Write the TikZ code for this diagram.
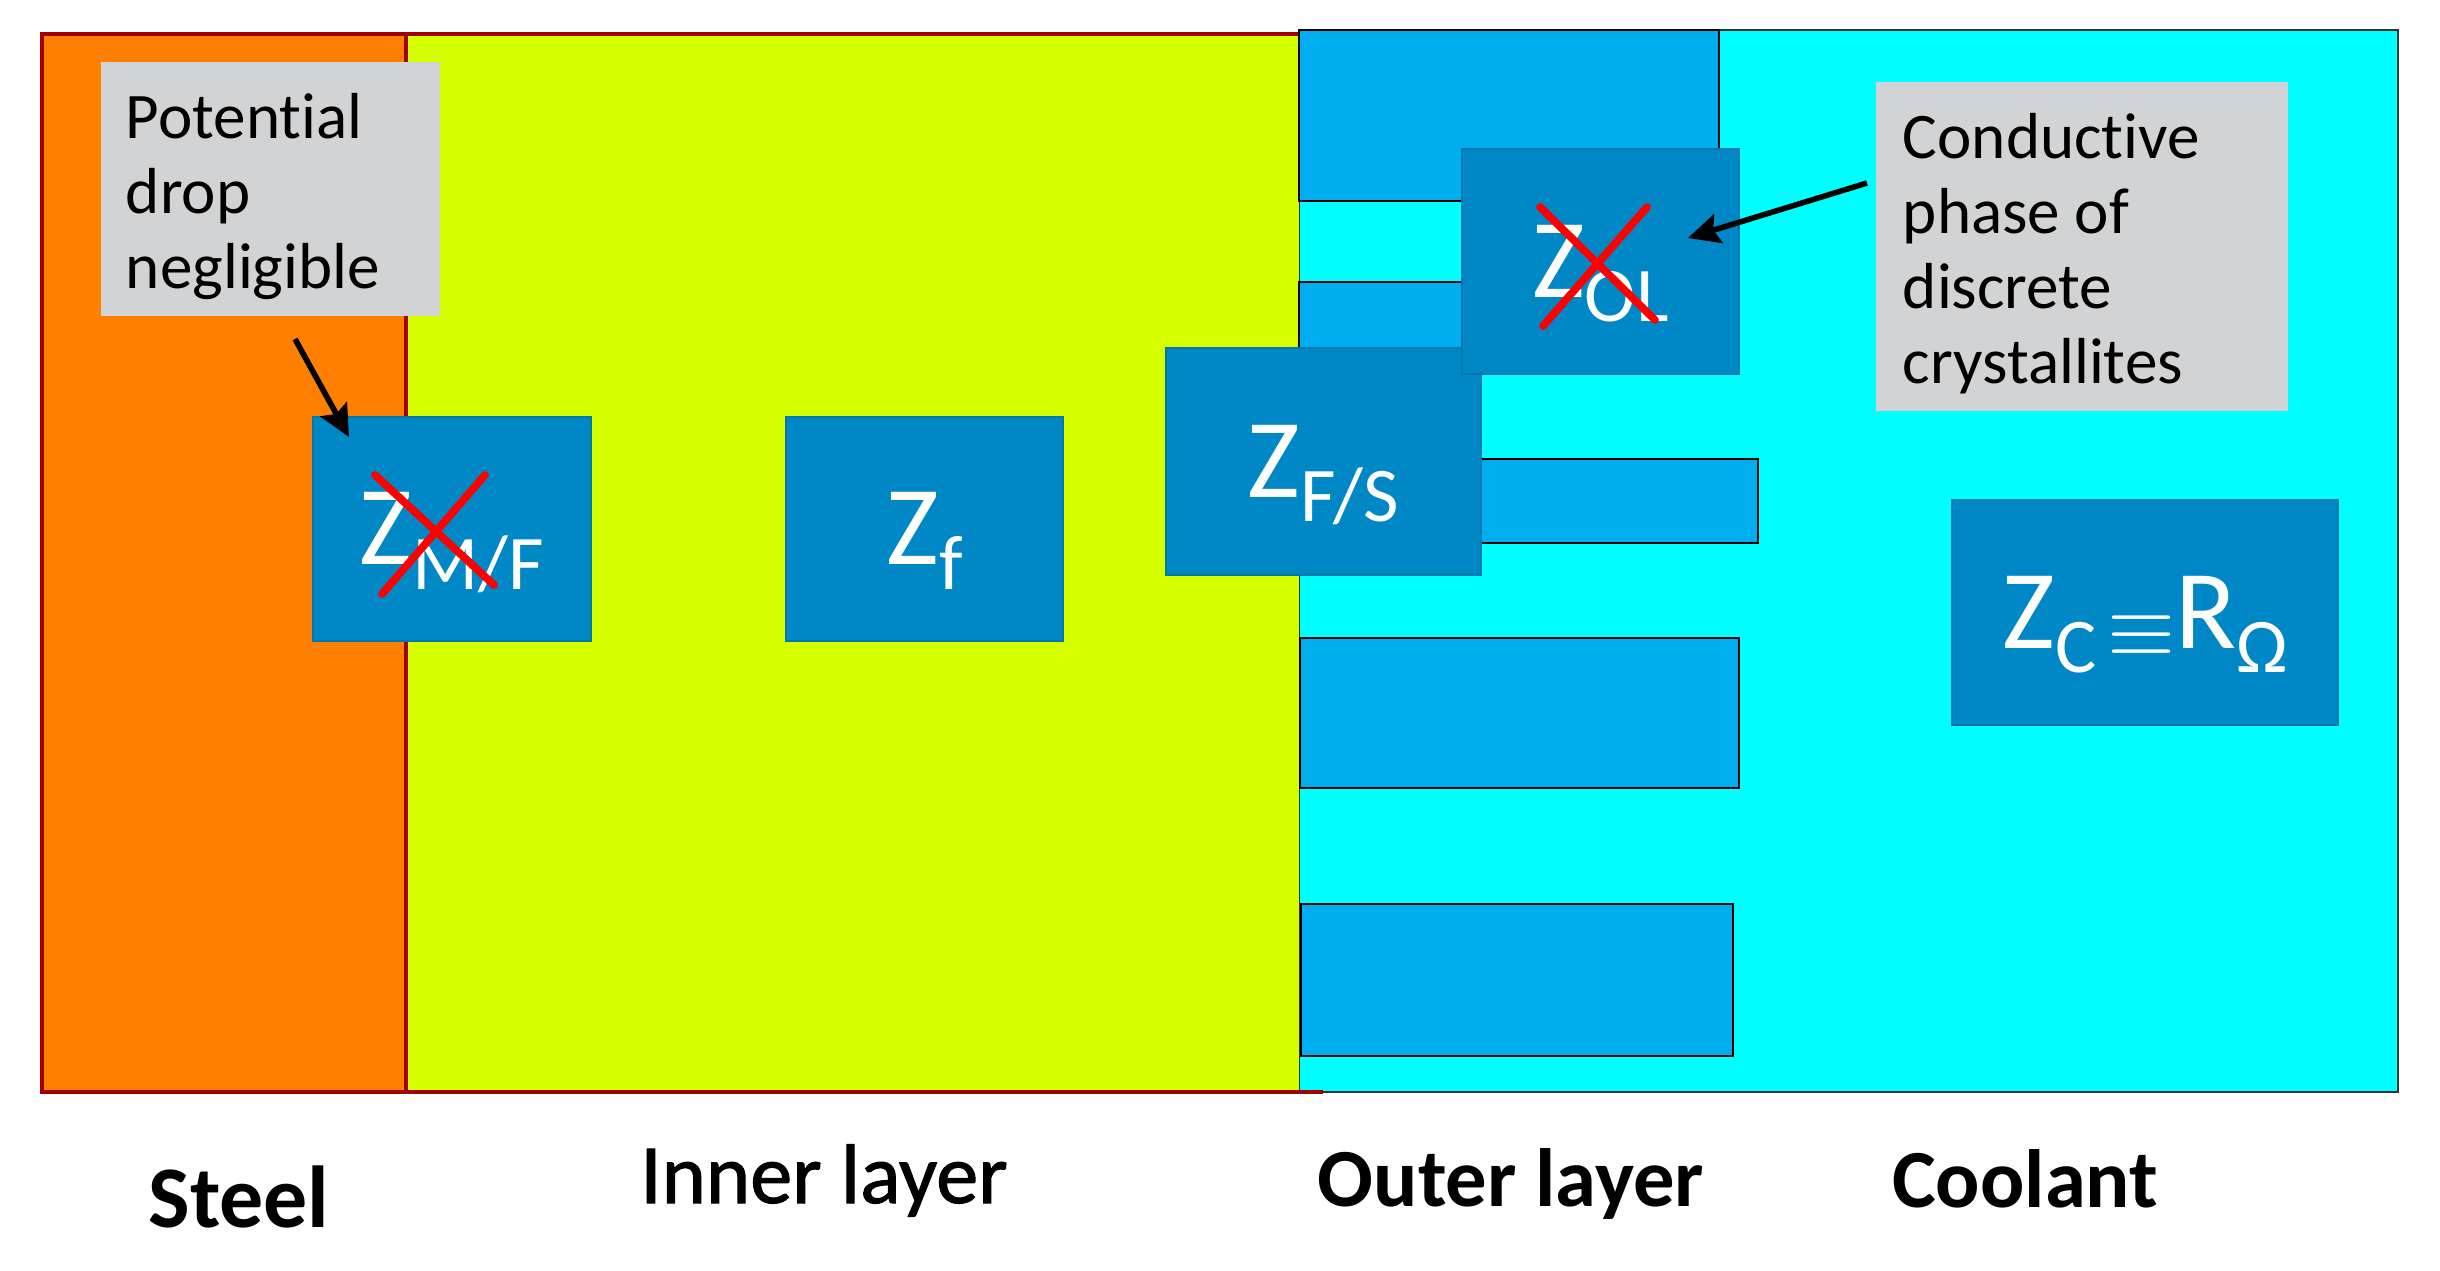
\documentclass[tikz,border=0pt]{standalone}
\usepackage{fontspec}
\setmainfont{Carlito}[Ligatures=CommonOff]
\newfontfamily\semibold[FakeBold=1.2,Ligatures=CommonOff]{Carlito}
\usepackage{tikz}
\usetikzlibrary{arrows.meta,positioning}
\definecolor{steelorange}{HTML}{FF8000}
\definecolor{innergreen}{HTML}{D6FF00}
\definecolor{coolcyan}{HTML}{00FFFF}
\definecolor{crystblue}{HTML}{00AEEF}
\definecolor{zblue}{HTML}{0088C6}
\definecolor{notegray}{HTML}{D1D3D4}
\definecolor{layerred}{HTML}{A00000}
\newcommand{\zsub}[1]{\raisebox{-7pt}{\fontsize{22}{22}\selectfont #1}}
\newcommand{\zlab}[1]{Z\zsub{#1}}

\begin{document}
\begin{tikzpicture}[x=0.01cm,y=-0.01cm,
  zbox/.style={fill=zblue,draw=zblue!88!black,line width=0.6pt,text=white,
    inner sep=0pt,font=\fontsize{32}{32}\selectfont,
    text height=20.3pt,text depth=0pt},
  notebox/.style={fill=notegray,inner sep=0pt,align=flush left,
    font=\fontsize{18.5}{21.3}\selectfont},
  crystal/.style={fill=crystblue,draw=black,line width=0.8pt},
  cross/.style={red,line width=2.2pt,line cap=round},
  pointer/.style={-{Stealth[length=9pt,width=8.5pt,inset=1.5pt]},line width=1.6pt},
  layername/.style={anchor=base,inner sep=0pt}
]
\useasboundingbox (0,0) rectangle (2440,1270);

% layers
\fill[coolcyan] (1299,30) rectangle (2398,1092);
\draw[black!80,line width=0.5pt] (1299,30) rectangle (2398,1092);
\fill[steelorange] (42,34) rectangle (406,1092);
\fill[innergreen] (406,34) rectangle (1299,1092);
\draw[layerred,line width=0.9pt] (1299,34) -- (42,34) -- (42,1092) -- (1323,1092);
\draw[layerred,line width=0.9pt] (406,34) -- (406,1092);

% crystallites of the outer layer
\draw[crystal] (1299,30) rectangle (1719,201);
\draw[crystal] (1299,282) rectangle (1600,360);
\draw[crystal] (1299,459) rectangle (1758,543);
\draw[crystal] (1300,638) rectangle (1739,788);
\draw[crystal] (1301,904) rectangle (1733,1056);

% notes
\node[notebox,minimum width=3.39cm,minimum height=2.54cm,text width=2.89cm]
  (drop) at (270.5,189) {\rule{0pt}{17pt}Potential\\drop\\negligible};
\node[notebox,minimum width=4.12cm,minimum height=3.29cm,text width=3.58cm]
  (phase) at (2082,246.5) {\rule{0pt}{17pt}Conductive\\phase of\\discrete\\crystallites};

% impedances
\node[zbox,minimum width=2.78cm,minimum height=2.24cm] (zmf) at (452,529) {\zlab{M/F}};
\node[zbox,minimum width=2.77cm,minimum height=2.24cm] (zf) at (924.5,529) {\zlab{f}};
\node[zbox,minimum width=3.15cm,minimum height=2.27cm] (zfs) at (1323.5,461.5) {\zlab{F/S}};
\node[zbox,minimum width=2.77cm,minimum height=2.25cm] (zol) at (1600.5,261.5) {\zlab{OL}};
\node[zbox,minimum width=3.86cm,minimum height=2.25cm] (zc) at (2145,612.5)
  {\zlab{C}\hspace{3pt}\raisebox{-2.5pt}{\fontsize{25}{25}\selectfont$\equiv$}\hspace{0pt}R\zsub{Ω}};

% crossed out
\draw[cross] (375,475) -- (494,585);
\draw[cross] (485,475) -- (382,594);
\draw[cross] (1540,207) -- (1655,320);
\draw[cross] (1647,207) -- (1543,326);

% pointers
\coordinate (droptail) at (295,339);
\coordinate (droptip) at (349,437);
\coordinate (phasetail) at (1867,183);
\coordinate (phasetip) at (1688,238);
\draw[pointer] (droptail) -- (droptip);
\draw[pointer] (phasetail) -- (phasetip);

% layer names
\node[layername,font=\fontsize{25}{25}\selectfont\bfseries] (steel) at (239,1227) {Steel};
\node[layername,font=\fontsize{24}{24}\selectfont\semibold] (inner) at (824,1203) {Inner layer};
\node[layername,font=\fontsize{23.5}{23.5}\selectfont\bfseries] (outer) at (1511,1206) {Outer layer};
\node[layername,font=\fontsize{23.5}{23.5}\selectfont\bfseries] (coolant) at (2025,1207) {Coolant};
\end{tikzpicture}
\end{document}
